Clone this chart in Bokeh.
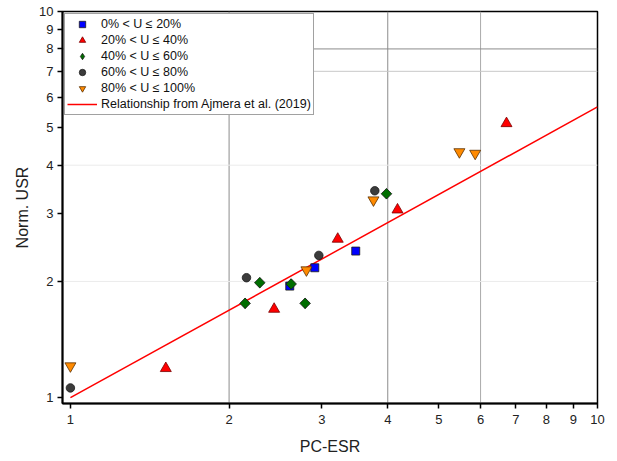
from bokeh.plotting import figure
from bokeh.models import Range1d, FixedTicker, PrintfTickFormatter, Span, Legend, LegendItem
from bokeh.embed import file_html
from bokeh.resources import INLINE

# ---- data ----
x_u20 = [2.607, 2.908, 3.478]
y_u20 = [1.945, 2.17, 2.397]

x_u40 = [1.517, 2.435, 3.215, 4.174, 6.72]
y_u40 = [1.191, 1.696, 2.575, 3.066, 5.13]

x_u60 = [2.145, 2.287, 2.623, 2.788, 3.978]
y_u60 = [1.755, 1.985, 1.97, 1.755, 3.373]

x_u80 = [1.0, 2.158, 2.960, 3.780]
y_u80 = [1.06, 2.045, 2.336, 3.434]

x_u100 = [1.0, 2.804, 3.758, 5.47, 5.86]
y_u100 = [1.208, 2.141, 3.249, 4.33, 4.29]

line_x = [1.0, 10.0]
line_y = [1.0, 5.66]

ticks = [1, 2, 3, 4, 5, 6, 7, 8, 9, 10]
labels = ["0% < U \u2264 20%", "20% < U \u2264 40%", "40% < U \u2264 60%",
          "60% < U \u2264 80%", "80% < U \u2264 100%",
          "Relationship from Ajmera et al. (2019)"]

FONT = "Liberation Sans"

p = figure(width=617, height=461, x_axis_type="log", y_axis_type="log",
           x_range=Range1d(0.966, 10), y_range=Range1d(0.966, 10),
           output_backend="svg", toolbar_location=None,
           min_border_left=62, min_border_right=20, min_border_top=11, min_border_bottom=58)

p.xgrid.visible = False
p.ygrid.visible = False
p.outline_line_color = "black"
p.outline_line_width = 1.5
p.outline_line_alpha = 1.0

# grid lines
for loc, col in [(2, "#8c8c8c"), (4, "#8c8c8c"), (6, "#aaaaaa")]:
    p.add_layout(Span(location=loc, dimension="height", line_color=col, line_width=1, level="underlay"))
for loc, col in [(2, "#ebebeb"), (4, "#ebebeb"), (7, "#c8c8c8"), (8, "#8c8c8c")]:
    p.add_layout(Span(location=loc, dimension="width", line_color=col, line_width=1, level="underlay"))

for ax in (p.xaxis[0], p.yaxis[0]):
    ax.ticker = FixedTicker(ticks=ticks, minor_ticks=[])
    ax.formatter = PrintfTickFormatter(format="%d")
    ax.axis_line_width = 2
    ax.axis_line_color = "black"
    ax.major_tick_out = 5
    ax.major_tick_in = 0
    ax.major_tick_line_width = 1.5
    ax.minor_tick_out = 0
    ax.minor_tick_in = 0
    ax.major_label_text_font = FONT
    ax.major_label_text_font_size = "13px"
    ax.major_label_text_color = "#222222"
    ax.axis_label_text_font = FONT
    ax.axis_label_text_font_size = "16px"
    ax.axis_label_text_font_style = "normal"
    ax.axis_label_text_color = "#222222"

p.xaxis.axis_label = "PC-ESR"
p.yaxis.axis_label = "Norm. USR"
p.xaxis.major_label_standoff = 6
p.xaxis.axis_label_standoff = 11
p.yaxis.major_label_standoff = 4
p.yaxis.axis_label_standoff = 5

r_line = p.line(line_x, line_y, line_color="#ff0000", line_width=1.5)
r1 = p.scatter(x_u20, y_u20, marker="square", size=8, fill_color="#0000ff", line_color="#1a1a1a", line_width=0.8)
r2 = p.scatter(x_u40, y_u40, marker="triangle", size=11, fill_color="#ff0000", line_color="#7a0000", line_width=0.8)
# diamond renderer (used for the legend symbol), covered by rotated squares of the same colour
r3_leg = p.scatter(x_u60, y_u60, marker="diamond", size=10, fill_color="#006e00", line_color="#1a1a1a", line_width=0.8)
r3 = p.scatter(x_u60, y_u60, marker="square", angle=0.785398, size=7.5, fill_color="#006e00", line_color="#1a1a1a", line_width=0.8)
r4 = p.scatter(x_u80, y_u80, marker="circle", size=8.5, fill_color="#3c3c3c", line_color="#1a1a1a", line_width=0.8)
r5 = p.scatter(x_u100, y_u100, marker="inverted_triangle", size=11, fill_color="#ff8a00", line_color="#5a3000", line_width=0.8)

legend = Legend(items=[LegendItem(label=labels[0], renderers=[r1]),
                       LegendItem(label=labels[1], renderers=[r2]),
                       LegendItem(label=labels[2], renderers=[r3_leg]),
                       LegendItem(label=labels[3], renderers=[r4]),
                       LegendItem(label=labels[4], renderers=[r5]),
                       LegendItem(label=labels[5], renderers=[r_line])],
                location="top_left")
legend.margin = 2
legend.padding = 2
legend.spacing = 0
legend.glyph_width = 30
legend.glyph_height = 16
legend.label_height = 15
legend.label_standoff = 4
legend.label_text_font = FONT
legend.label_text_font_size = "12.5px"
legend.label_text_color = "#111111"
legend.border_line_color = "#444444"
legend.border_line_width = 1
legend.background_fill_color = "white"
legend.background_fill_alpha = 1.0
p.add_layout(legend, "center")

open("out.html", "w").write(file_html(p, INLINE))
